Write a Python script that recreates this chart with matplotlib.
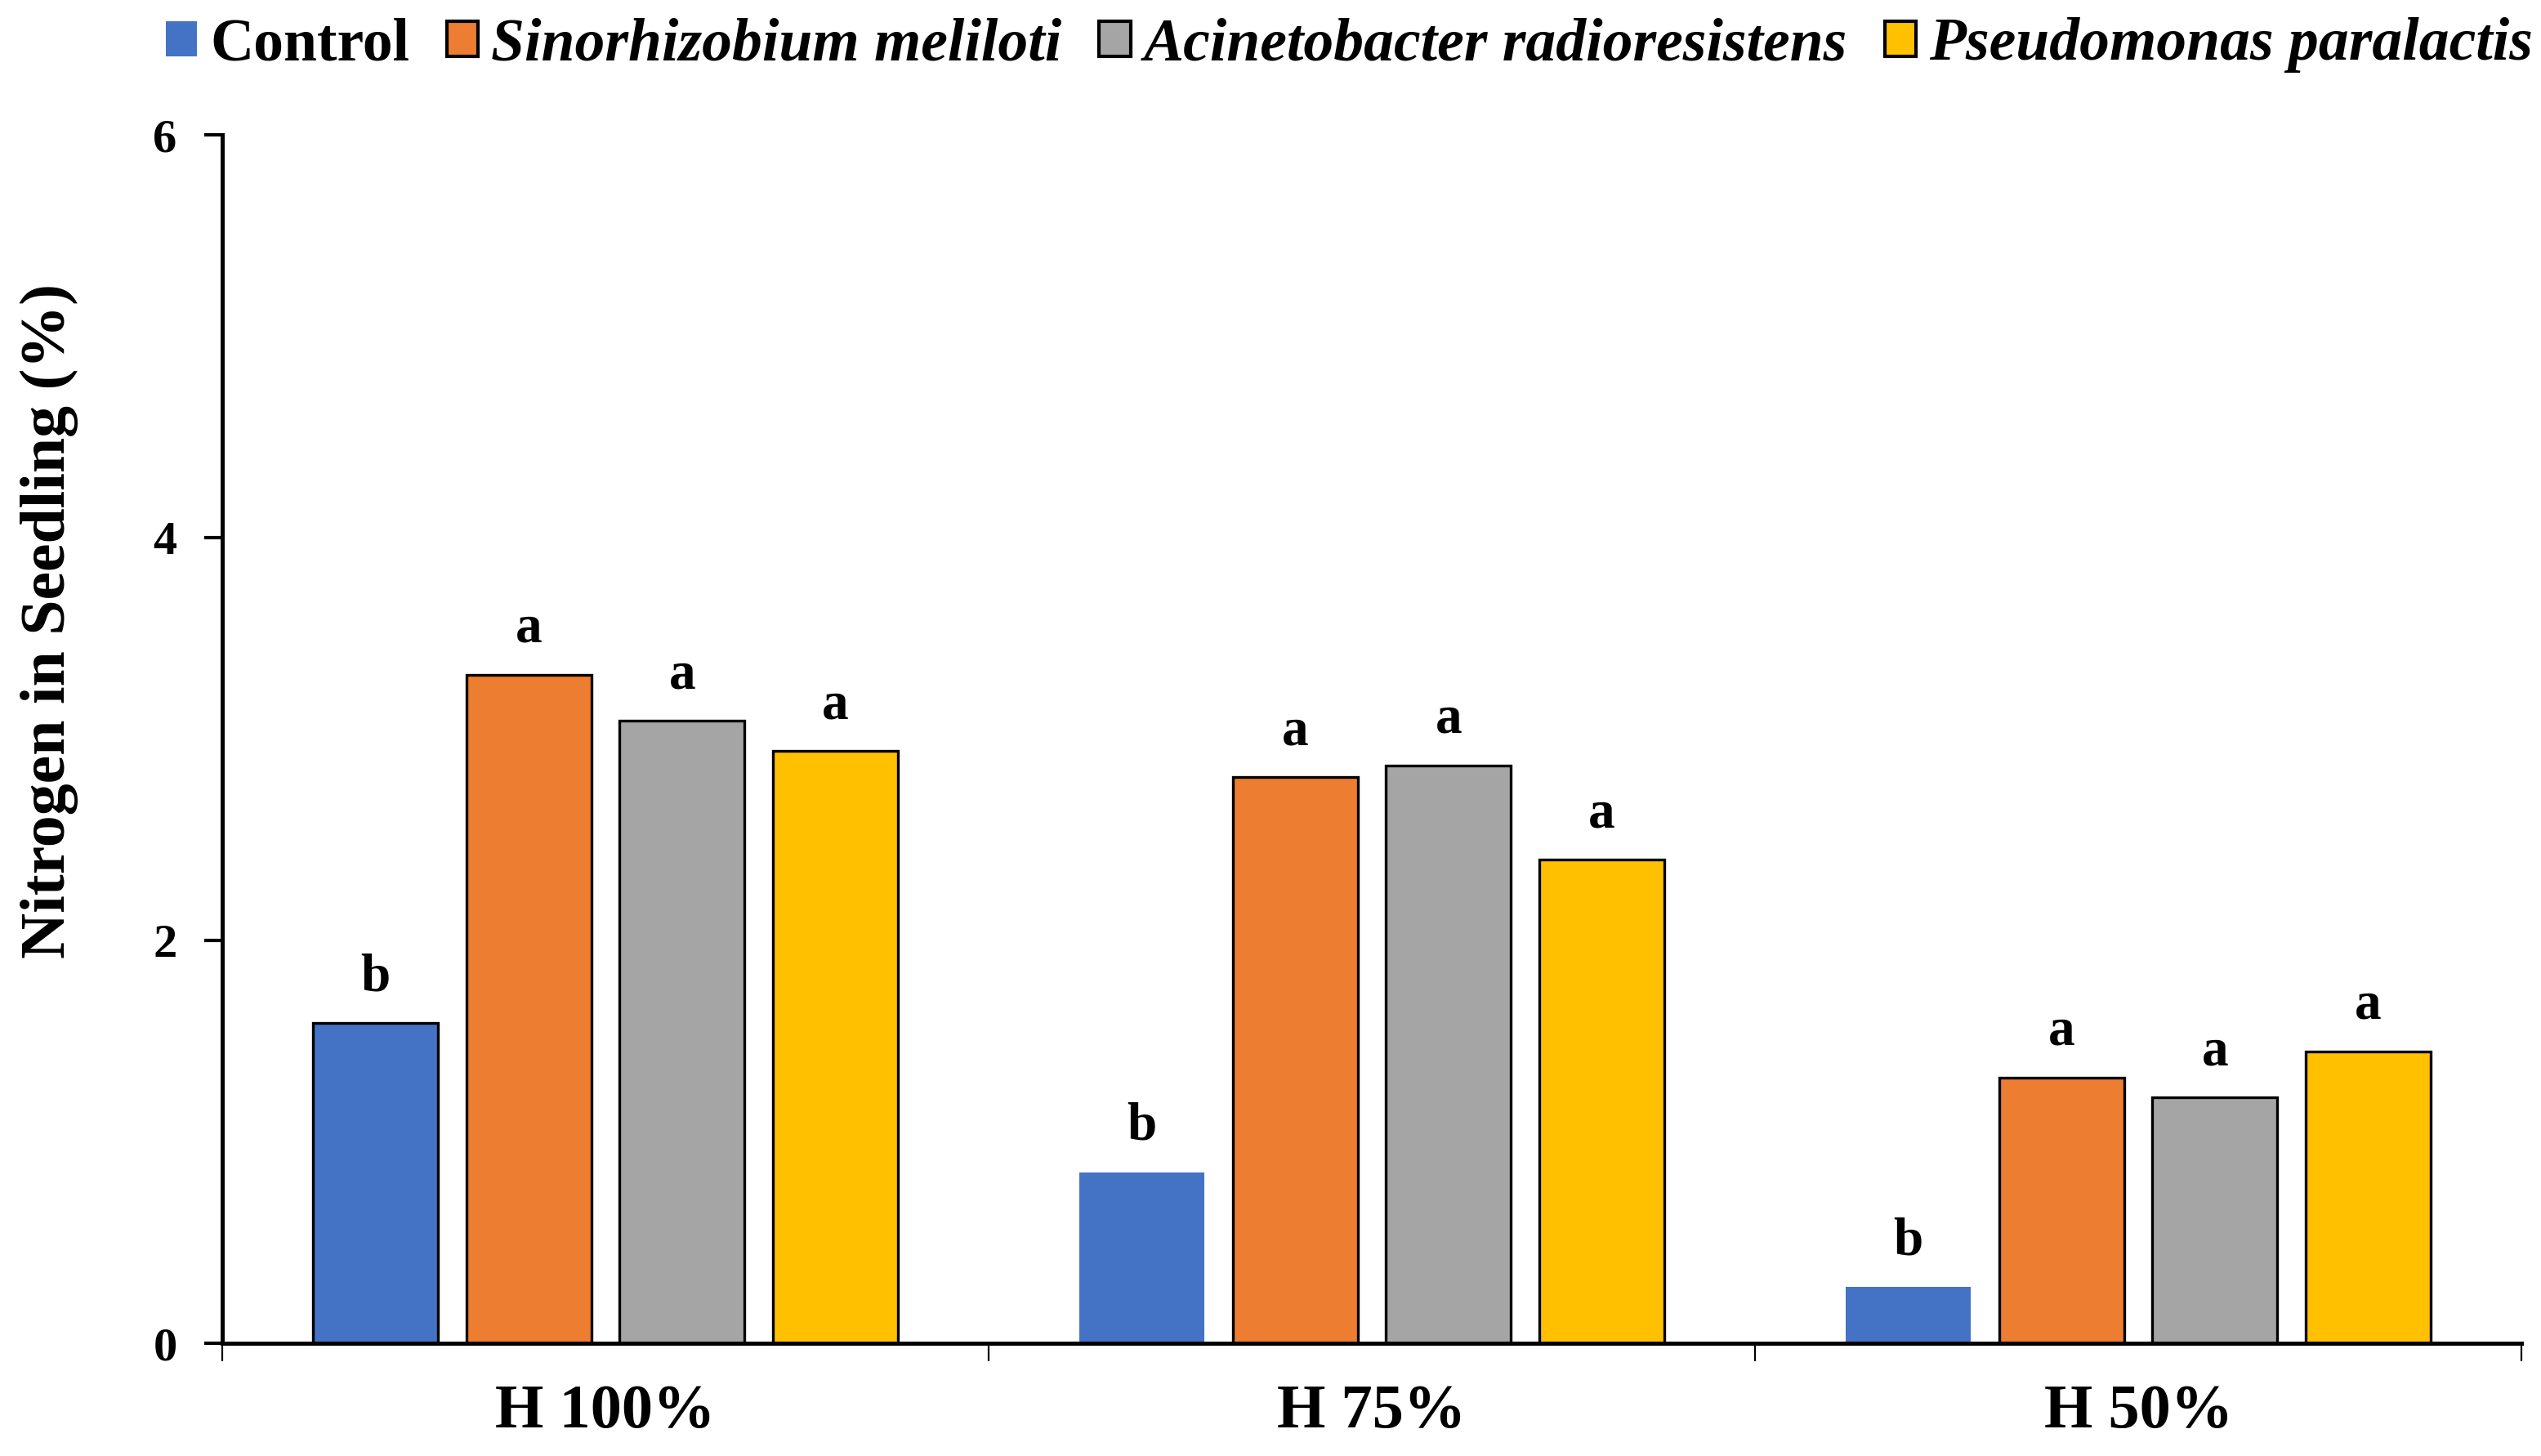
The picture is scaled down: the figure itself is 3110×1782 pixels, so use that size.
import matplotlib
matplotlib.use('Agg')
import matplotlib.pyplot as plt
import numpy as np
from matplotlib.patches import Patch

# ---- data ----
groups = ['H 100%', 'H 75%', 'H 50%']
series_names = ['Control', 'Sinorhizobium meliloti',
                'Acinetobacter radioresistens', 'Pseudomonas paralactis']
control = [1.59, 0.85, 0.28]
sinorhizobium = [3.32, 2.81, 1.32]
acinetobacter = [3.09, 2.87, 1.22]
pseudomonas = [2.94, 2.40, 1.45]
letters_control = ['b', 'b', 'b']
letters_sinorhizobium = ['a', 'a', 'a']
letters_acinetobacter = ['a', 'a', 'a']
letters_pseudomonas = ['a', 'a', 'a']
yticks = [0, 2, 4, 6]

values = [control, sinorhizobium, acinetobacter, pseudomonas]
letters = [letters_control, letters_sinorhizobium,
           letters_acinetobacter, letters_pseudomonas]
colors = ['#4472C4', '#ED7D31', '#A5A5A5', '#FFC000']
edgecols = [['black', 'none', 'none'], ['black'] * 3, ['black'] * 3, ['black'] * 3]
offsets = [-0.3, -0.1, 0.1, 0.3]
width = 0.163

FONT = 'Liberation Serif'
plt.rcParams['font.family'] = [FONT, 'DejaVu Serif']

fig = plt.figure(figsize=(15.55, 8.91), dpi=200)
ax = fig.add_axes([0.0875, 0.0774, 0.9048, 0.830])

x = np.arange(len(groups))
for i, (vals, col) in enumerate(zip(values, colors)):
    bars = ax.bar(x + offsets[i], vals, width=width, color=col,
                  edgecolor=edgecols[i], linewidth=1.2, zorder=2)
    for j, b in enumerate(bars):
        ax.annotate(letters[i][j], (b.get_x() + b.get_width() / 2, b.get_height()),
                    xytext=(0, 14.4), textcoords='offset points',
                    ha='center', va='baseline', fontsize=23.5,
                    fontweight='bold', family=FONT)

ax.set_xlim(-0.5, 2.5)
ax.set_ylim(0, 6)
ax.set_yticks(yticks)
ax.set_yticklabels([str(t) for t in yticks], fontsize=21, fontweight='bold')
ax.tick_params(axis='y', length=8, width=1.5, pad=12, direction='out')

ax.set_xticks([-0.5, 0.5, 1.5, 2.5])
ax.set_xticklabels([])
ax.tick_params(axis='x', which='major', length=8, width=0.8, direction='out')
ax.set_xticks(x, minor=True)
ax.set_xticklabels(groups, minor=True, fontsize=27.5, fontweight='bold')
ax.tick_params(axis='x', which='minor', length=0, pad=18)

for s in ['top', 'right']:
    ax.spines[s].set_visible(False)
ax.spines['left'].set_linewidth(1.8)
ax.spines['bottom'].set_linewidth(1.8)

fig.text(0.0193, 0.5735, 'Nitrogen in Seedling (%)', rotation=90,
         ha='center', va='center', fontsize=28, fontweight='bold')

handles = [Patch(facecolor=colors[0], edgecolor='none'),
           Patch(facecolor=colors[1], edgecolor='black', linewidth=1.5),
           Patch(facecolor=colors[2], edgecolor='black', linewidth=1.5),
           Patch(facecolor=colors[3], edgecolor='black', linewidth=1.5)]
leg = fig.legend(handles, series_names, loc='center', ncol=4,
                 bbox_to_anchor=(0.531, 0.969), frameon=False,
                 prop={'family': FONT, 'weight': 'bold', 'size': 26.5},
                 handlelength=0.52, handleheight=0.52, handletextpad=0.22,
                 columnspacing=0.62, borderpad=0, borderaxespad=0)
for k, t in enumerate(leg.get_texts()):
    if k > 0:
        t.set_fontstyle('italic')

fig.savefig('out.png', dpi=200)
